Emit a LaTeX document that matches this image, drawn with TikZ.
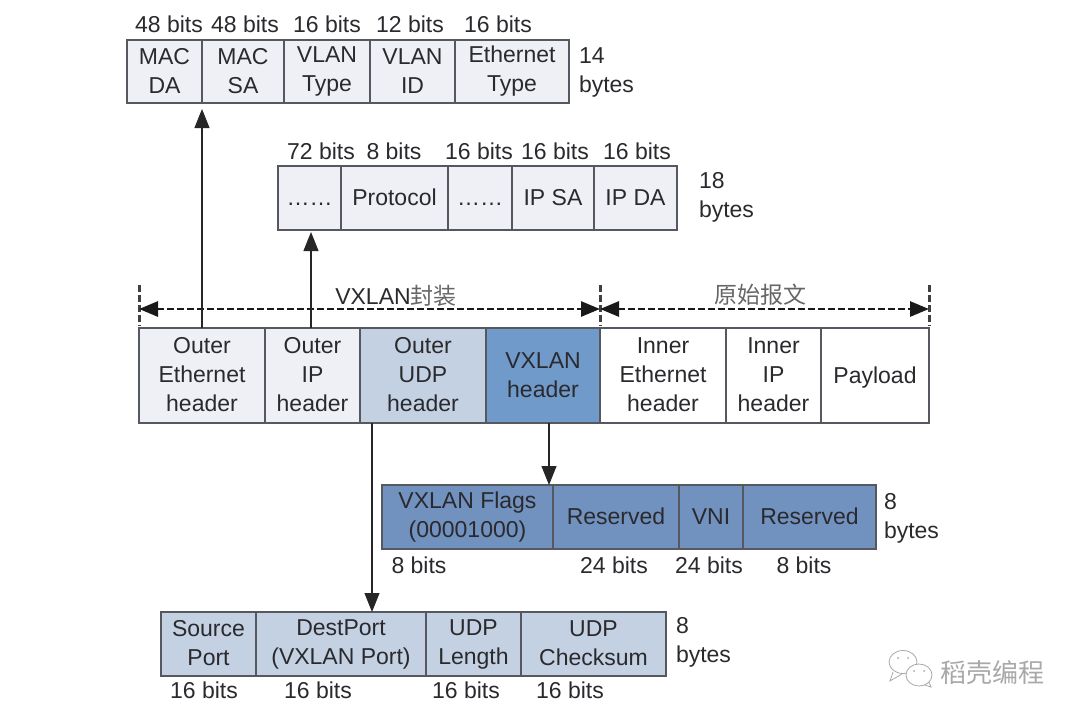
\documentclass[tikz,border=0pt]{standalone}
\usepackage{fontspec}
\setmainfont{Liberation Sans}
\newfontfamily\cjk{Noto Sans CJK SC}
\usetikzlibrary{arrows.meta}

\definecolor{inkgray}{HTML}{2A2A2E}
\definecolor{linegray}{HTML}{55585E}
\definecolor{palecell}{HTML}{EEF0F6}
\definecolor{udpcell}{HTML}{C4D1E2}
\definecolor{vxheadcell}{HTML}{6F9ACA}
\definecolor{vxfieldcell}{HTML}{7191BE}
\definecolor{markgray}{HTML}{A8A8A8}

\newcommand{\capstrut}{\rule[-1.2pt]{0pt}{24.5pt}}

\begin{document}
\begin{tikzpicture}[
    x=1pt,y=-1pt,
    >={Stealth[length=19pt,width=15pt,inset=0pt]},
    every node/.style={font=\fontsize{23}{29}\selectfont,text=inkgray,inner sep=0pt,outer sep=0pt},
    box/.style={draw=linegray,line width=1.4pt,align=center,anchor=north west},
    cell/.style={box,execute at begin node=\capstrut,execute at end node=\capstrut},
    onecell/.style={box,text height=18.4pt,text depth=3pt},
    note/.style={align=left,anchor=west,
      execute at begin node=\capstrut,execute at end node=\capstrut},
    link/.style={line width=1.1pt,draw=black!85},
    span/.style={<->,line width=2.8pt,dash pattern=on 7pt off 3pt,draw=black!90},
    tick/.style={line width=3pt,dash pattern=on 7pt off 3pt,draw=black!75},
    bubble/.style={draw=markgray,fill=white,line width=0.8pt},
  ]
  \useasboundingbox (0,0) rectangle (1080,718);

  % ---- Ethernet fields ------------------------------------------------
  \node[cell,fill=palecell,minimum width=75pt,minimum height=63pt] (macda) at (127,40) {MAC\\DA};
  \node[cell,fill=palecell,minimum width=82pt,minimum height=63pt] (macsa) at (202,40) {MAC\\SA};
  \node[cell,fill=palecell,minimum width=86pt,minimum height=63pt] (vlantype) at (284,40) {VLAN\\Type};
  \node[cell,fill=palecell,minimum width=85pt,minimum height=63pt] (vlanid) at (370,40) {VLAN\\ID};
  \node[cell,fill=palecell,minimum width=114pt,minimum height=63pt] (ethtype) at (455,40) {Ethernet\\Type};
  \node (bitsa) at (169,24) {48 bits};
  \node (bitsb) at (245,24) {48 bits};
  \node (bitsc) at (327,24) {16 bits};
  \node (bitsd) at (410,24) {12 bits};
  \node (bitse) at (498,24) {16 bits};
  \node[note] (etherlen) at (579,72) {14\\bytes};

  % ---- IP fields ------------------------------------------------------
  \node[onecell,fill=palecell,minimum width=63pt,minimum height=64pt] (ipdots) at (278,166) {\dots\dots};
  \node[onecell,fill=palecell,minimum width=107pt,minimum height=64pt] (proto) at (341,166) {Protocol};
  \node[onecell,fill=palecell,minimum width=64pt,minimum height=64pt] (ipdotsb) at (448,166) {\dots\dots};
  \node[onecell,fill=palecell,minimum width=82pt,minimum height=64pt] (ipsa) at (512,166) {IP SA};
  \node[onecell,fill=palecell,minimum width=83pt,minimum height=64pt] (ipda) at (594,166) {IP DA};
  \node (bitsf) at (321,151) {72 bits};
  \node (bitsg) at (394,151) {8 bits};
  \node (bitsh) at (479,151) {16 bits};
  \node (bitsi) at (555,151) {16 bits};
  \node (bitsj) at (637,151) {16 bits};
  \node[note] (iplen) at (699,197) {18\\bytes};

  % ---- packet layout --------------------------------------------------
  \node[cell,fill=palecell,minimum width=126pt,minimum height=95pt] (outereth) at (139,328) {Outer\\Ethernet\\header};
  \node[cell,fill=palecell,minimum width=95pt,minimum height=95pt] (outerip) at (265,328) {Outer\\IP\\header};
  \node[cell,fill=udpcell,minimum width=126pt,minimum height=95pt] (outerudp) at (360,328) {Outer\\UDP\\header};
  \node[box,fill=vxheadcell,minimum width=114pt,minimum height=95pt] (vxhead) at (486,328) {VXLAN\\header};
  \node[cell,fill=white,minimum width=126pt,minimum height=95pt] (innereth) at (600,328) {Inner\\Ethernet\\header};
  \node[cell,fill=white,minimum width=95pt,minimum height=95pt] (innerip) at (726,328) {Inner\\IP\\header};
  \node[onecell,fill=white,minimum width=108pt,minimum height=95pt] (payload) at (821,328) {Payload};

  % spans over the layout
  \coordinate (spana) at (139,309);
  \coordinate (spanb) at (600,309);
  \coordinate (spanc) at (929,309);
  \draw[tick] (139,285) -- (139,326);
  \draw[tick] (600,285) -- (600,326);
  \draw[tick] (929,285) -- (929,326);
  \draw[span] (spana) -- (spanb);
  \draw[span] (spanb) -- (spanc);
  \node (encap) at (396,296) {VXLAN{\cjk\color{black!60}封装}};
  \node[text=black!60] (origin) at (760,295) {\cjk 原始报文};

  % ---- VXLAN fields ---------------------------------------------------
  \node[cell,fill=vxfieldcell,minimum width=171pt,minimum height=64pt] (flags) at (382,485) {VXLAN Flags\\(00001000)};
  \node[onecell,fill=vxfieldcell,minimum width=126pt,minimum height=64pt] (reserveda) at (553,485) {Reserved};
  \node[onecell,fill=vxfieldcell,minimum width=64pt,minimum height=64pt] (vni) at (679,485) {VNI};
  \node[onecell,fill=vxfieldcell,minimum width=133pt,minimum height=64pt] (reservedb) at (743,485) {Reserved};
  \node (bitsk) at (419,565) {8 bits};
  \node (bitsl) at (614,565) {24 bits};
  \node (bitsm) at (709,565) {24 bits};
  \node (bitsn) at (804,565) {8 bits};
  \node[note] (vxlen) at (884,518) {8\\bytes};

  % ---- UDP fields -----------------------------------------------------
  \node[cell,fill=udpcell,minimum width=95pt,minimum height=64pt] (srcport) at (161,612) {Source\\Port};
  \node[cell,fill=udpcell,minimum width=170pt,minimum height=64pt] (dstport) at (256,612) {DestPort\\(VXLAN Port)};
  \node[cell,fill=udpcell,minimum width=95pt,minimum height=64pt] (udplen) at (426,612) {UDP\\Length};
  \node[cell,fill=udpcell,minimum width=145pt,minimum height=64pt] (udpsum) at (521,612) {UDP\\Checksum};
  \node (bitso) at (204,690) {16 bits};
  \node (bitsp) at (318,690) {16 bits};
  \node (bitsq) at (466,690) {16 bits};
  \node (bitsr) at (570,690) {16 bits};
  \node[note] (udplength) at (676,642) {8\\bytes};

  % ---- field arrows ---------------------------------------------------
  \coordinate (ethtap) at (202,328);
  \coordinate (iptap) at (311,328);
  \coordinate (udptap) at (372,423);
  \coordinate (vxtap) at (549,423);
  \draw[link,->,shorten >=6pt] (ethtap) -- (ethtap |- macda.south);
  \draw[link,->,shorten >=2pt] (iptap) -- (iptap |- ipdots.south);
  \draw[link,->] (udptap) -- (udptap |- dstport.north);
  \draw[link,->] (vxtap) -- (vxtap |- flags.north);

  % ---- mark -----------------------------------------------------------
  \draw[bubble] (893,672) -- (890,681) -- (902,674);
  \draw[bubble] (903,662) ellipse (14 and 11.5);
  \draw[bubble] (929,682) -- (931,687) -- (922,684);
  \draw[bubble] (919,675) ellipse (13 and 11);
  \fill[markgray] (898,658) circle (1) (908,658) circle (1) (914,671) circle (1) (924,671) circle (1);
  \node[text=markgray,font=\fontsize{26}{26}\cjk] (mark) at (992,673) {稻壳编程};

\end{tikzpicture}
\end{document}
